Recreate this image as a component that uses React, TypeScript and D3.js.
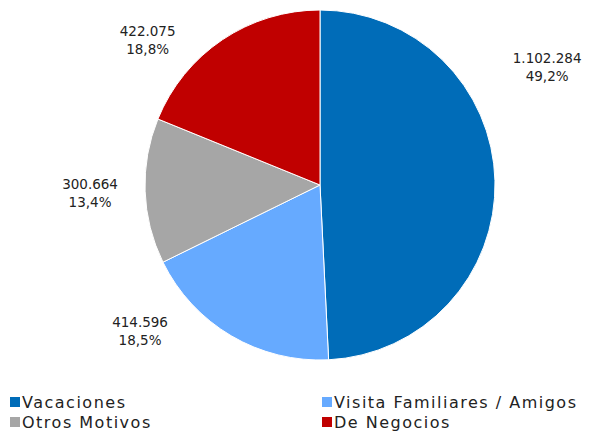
import React from "react";
import * as d3 from "d3";

const categories = ["Vacaciones", "Visita Familiares / Amigos", "Otros Motivos", "De Negocios"];
const values = [1102284, 414596, 300664, 422075];
const valueLabels = ["1.102.284", "414.596", "300.664", "422.075"];
const percentLabels = ["49,2%", "18,5%", "13,4%", "18,8%"];
const colors = ["#006CB8", "#66AAFF", "#A6A6A6", "#C00000"];
// label placement (best-fit style): angle offset in degrees from slice mid, radius
const labelAngleShift = [-26.9, 21.3, 1.1, -15.2];
const labelRadius = [258, 229, 230, 228];

export default function App() {
  const W = 596, H = 432;
  const cx = 320, cy = 185, r = 175;
  const pie = d3.pie<number>().sort(null).value((d) => d)(values);
  const arc = d3.arc<d3.PieArcDatum<number>>().innerRadius(0).outerRadius(r);
  const font = "'DejaVu Sans', Verdana, sans-serif";
  return (
    <svg width={W} height={H} style={{ position: "absolute", left: 0, top: 0, background: "#fff" }} fontFamily={font}>
      <g transform={`translate(${cx},${cy})`}>
        {pie.map((p, i) => (
          <path key={i} d={arc(p) || ""} fill={colors[i]} stroke="#fff" strokeWidth={1} />
        ))}
        {pie.map((p, i) => {
          const a = (p.startAngle + p.endAngle) / 2 + (labelAngleShift[i] * Math.PI) / 180;
          const x = Math.sin(a) * labelRadius[i];
          const y = -Math.cos(a) * labelRadius[i];
          return (
            <text key={i} x={x} y={y} textAnchor="middle" fontSize={13.5} fill="#222">
              <tspan x={x} dy={0}>{valueLabels[i]}</tspan>
              <tspan x={x} dy={18}>{percentLabels[i]}</tspan>
            </text>
          );
        })}
      </g>
      {categories.map((c, i) => {
        const col = i % 2, row = Math.floor(i / 2);
        const x = col === 0 ? 10 : 322;
        const y = 397 + row * 20;
        return (
          <g key={c}>
            <rect x={x} y={y} width={10} height={10} fill={colors[i]} />
            <text x={x + 12} y={y + 11} fontSize={16} letterSpacing={1.5} fill="#222">{c}</text>
          </g>
        );
      })}
    </svg>
  );
}
